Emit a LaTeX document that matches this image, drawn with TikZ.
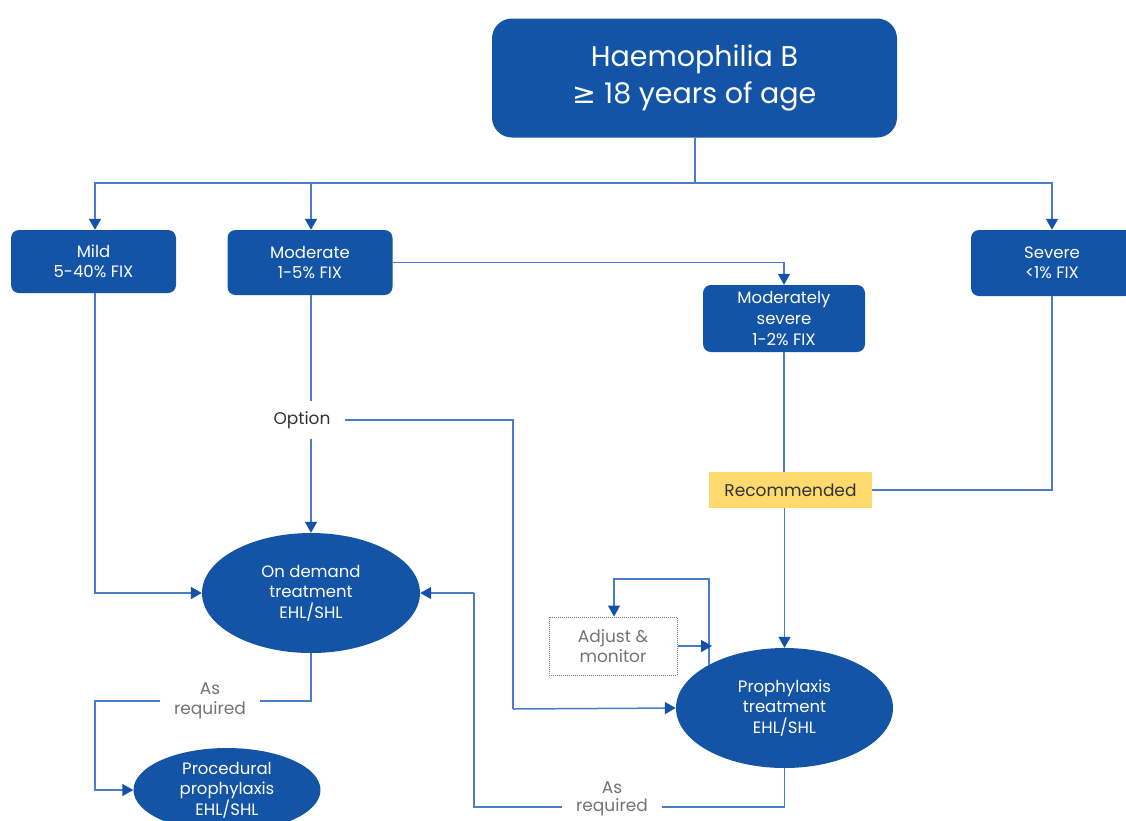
\documentclass[tikz,border=0pt]{standalone}
\usepackage{fontspec}
\setmainfont{Poppins}
\newfontfamily\symfont{DejaVu Sans}
\usetikzlibrary{shapes.geometric,arrows.meta,calc}
\definecolor{hblue}{HTML}{1354A6}
\definecolor{lblue}{HTML}{4A7CC9}
\definecolor{ablue}{HTML}{1451A8}
\definecolor{hyellow}{HTML}{FDD96E}
\definecolor{tgray}{HTML}{333333}
\tikzset{
  bluebox/.style={rectangle, rounded corners=8pt, fill=hblue, text=white, align=center, inner sep=0pt,
    font=\fontsize{16.5}{20}\selectfont},
  blueell/.style={ellipse, fill=hblue, text=white, align=center, inner sep=0pt,
    font=\fontsize{16.5}{20.5}\selectfont},
  conn/.style={draw=lblue, line width=1.5pt},
  arr/.style={conn, -{Triangle[width=12pt,length=11pt,color=ablue]}},
  plain/.style={text=tgray, align=center, inner sep=0pt, font=\fontsize{17}{20}\selectfont},
}
\begin{document}
\begin{tikzpicture}[x=1pt,y=-1pt]
\useasboundingbox (0,0) rectangle (1126,820);
% nodes
\node[bluebox, rounded corners=20pt, minimum width=405pt, minimum height=119pt,
  font=\fontsize{28.5}{37}\selectfont] (top) at (694.5,78) {Haemophilia B\\{\symfont ≥} 18 years of age};
\node[bluebox, minimum width=165pt, minimum height=63pt] (mild) at (93.5,261.5) {Mild\\5-40\% FIX};
\node[bluebox, minimum width=165pt, minimum height=65pt] (moderate) at (310,262.5) {Moderate\\1-5\% FIX};
\node[bluebox, minimum width=162pt, minimum height=66pt] (severe) at (1052,263) {Severe\\<1\% FIX};
\node[bluebox, minimum width=162pt, minimum height=67pt, font=\fontsize{16.5}{21}\selectfont] (modsev) at (784,318.5) {Moderately\\severe\\1-2\% FIX};
\node[plain, fill=hyellow, minimum width=163pt, minimum height=36pt] (rec) at (790.5,490) {Recommended};
\node[plain, inner xsep=14pt, inner ysep=10pt] (option) at (302,420) {Option};
\node[blueell, minimum width=218pt, minimum height=120pt] (ondemand) at (311,593) {On demand\\treatment\\EHL/SHL};
\node[blueell, minimum width=217pt, minimum height=120pt] (proph) at (784.5,708) {Prophylaxis\\treatment\\EHL/SHL};
\node[blueell, minimum width=187pt, minimum height=84pt] (proc) at (227,790) {Procedural\\prophylaxis\\EHL/SHL};
\node[plain, draw=gray, densely dotted, line width=1pt, minimum width=128pt, minimum height=58pt, text=gray!90!black] (adjust) at (613,646) {Adjust \&\\monitor};
\node[plain, text=gray!90!black, inner xsep=14pt] (asr1) at (210,701) {As\\required};
\node[plain, text=gray!90!black, inner xsep=14pt, font=\fontsize{17}{18}\selectfont] (asr2) at (612,799) {As\\required};
% coordinates
\coordinate (hbar) at (695,183);
\coordinate (optturn) at (513,709);
\coordinate (ploop) at (709,665);
\coordinate (looptop) at (614,579);
\coordinate (retx) at (474,593);
% connectors
\draw[conn] (top.south -| hbar) -- (hbar);
\draw[arr] (hbar) -| (mild.north -| 95,0);
\draw[arr] (hbar) -| (moderate.north -| 311,0);
\draw[arr] (hbar) -| (severe.north);
\draw[arr] (moderate.east) -| (modsev.north);
\draw[conn] (moderate.south -| 311,0) -- (option.north -| 311,0);
\draw[arr] (option.south -| 311,0) -- (ondemand.north);
\draw[arr] (mild.south -| 95,0) |- (ondemand.west);
\draw[conn] (option.east) -| (optturn);
\draw[arr] (optturn) -- (proph.west);
\draw[conn] (modsev.south) -- (rec.north -| modsev.south);
\draw[arr] (rec.south -| proph.north) -- (proph.north);
\draw[conn] (severe.south) |- (rec.east);
\draw[arr] (ploop) |- (looptop) -- (adjust.north -| looptop);
\draw[arr] (adjust.east) -- (adjust.east -| 712,0);
\draw[conn] (proph.south) |- (asr2.east |- 0,807);
\draw[conn] (asr2.west |- 0,807) -| (retx);
\draw[arr] (retx) -- (ondemand.east);
\draw[conn] (ondemand.south) |- (asr1.east);
\draw[arr] (asr1.west) -| (95,790) -- (proc.west);
\end{tikzpicture}
\end{document}
